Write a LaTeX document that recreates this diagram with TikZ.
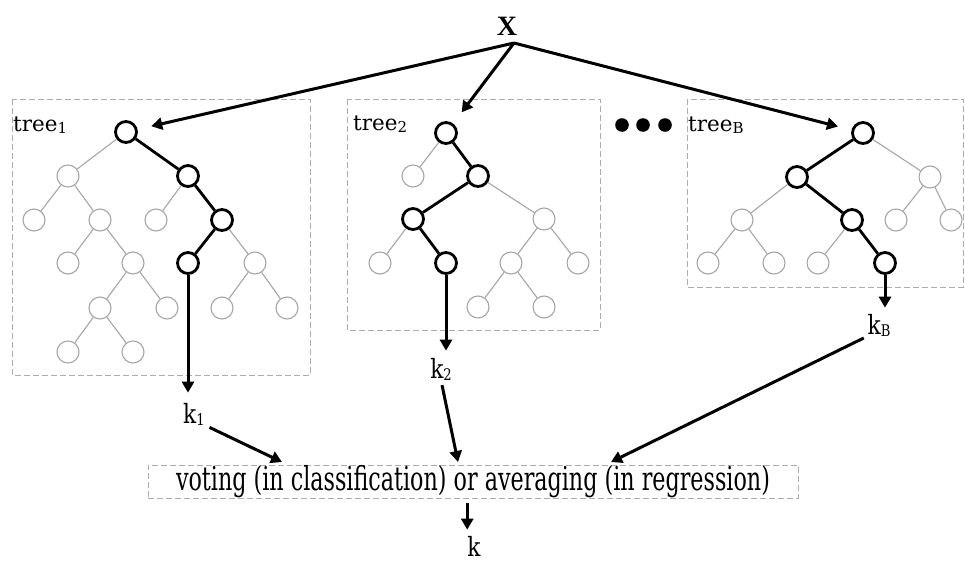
\documentclass[tikz,border=0pt]{standalone}
\usepackage{fontspec}
\setmainfont{DejaVu Serif}
\newfontfamily\timesfont{Liberation Serif}
\usetikzlibrary{arrows.meta}

% subscripted labels
\newcommand\treelabel[1]{tree\raisebox{-2pt}{\fontsize{15}{15}\selectfont #1}}
\newcommand\klabel[1]{\scalebox{0.82}[1]{k\raisebox{-2pt}{\fontsize{16}{16}\selectfont #1}}}

\tikzset{
  leaf/.style={circle, draw=gray!70, line width=1.1pt, minimum size=22pt, inner sep=0pt},
  hot/.style={circle, draw=black, line width=2.8pt, minimum size=21pt, inner sep=0pt},
  thinedge/.style={draw=gray!70, line width=1.1pt},
  hotedge/.style={draw=black, line width=2.8pt},
  treeframe/.style={draw=gray!65, line width=0.9pt, dash pattern=on 6pt off 3pt},
  flow/.style={draw=black, line width=3pt, -{Triangle[length=11pt,width=12pt]}},
  lbl/.style={inner sep=0pt, anchor=base, font=\fontsize{26.5}{30}\selectfont},
  treename/.style={inner sep=0pt, anchor=base west, font=\fontsize{21.5}{26}\selectfont},
}

\begin{document}
\begin{tikzpicture}[x=1pt, y=-1pt]
\useasboundingbox (0,0) rectangle (965,562);
\fill[white] (0,0) rectangle (965,562);

% input
\node[inner sep=0pt, anchor=base, font=\timesfont\bfseries\fontsize{28}{30}\selectfont] (x) at (507,35) {X};
\coordinate (xs) at (514,43);

% frames around the trees
\draw[treeframe] (12,99) rectangle (310,375);
\draw[treeframe] (347,99) rectangle (600,330);
\draw[treeframe] (687,99) rectangle (963,287);

\node[treename] (n1) at (13,131) {\treelabel{1}};
\node[treename] (n2) at (353,130) {\treelabel{2}};
\node[treename] (nB) at (688,131) {\treelabel{B}};

% ellipsis between trees
\fill (622,125) circle (6.8pt) (643,125) circle (6.8pt) (665,125) circle (6.8pt);

% ---- tree 1 ----
\node[hot]  (a0)  at (126,132) {};
\node[leaf] (a1)  at (68,176) {};
\node[hot]  (a2)  at (188,176) {};
\node[leaf] (a3)  at (34,220) {};
\node[leaf] (a4)  at (100,220) {};
\node[leaf] (a5)  at (156,220) {};
\node[hot]  (a6)  at (222,220) {};
\node[leaf] (a7)  at (68,263) {};
\node[leaf] (a8)  at (133,263) {};
\node[hot]  (a9)  at (188,263) {};
\node[leaf] (a10) at (255,263) {};
\node[leaf] (a11) at (100,308) {};
\node[leaf] (a12) at (167,308) {};
\node[leaf] (a13) at (222,308) {};
\node[leaf] (a14) at (287,308) {};
\node[leaf] (a15) at (68,352) {};
\node[leaf] (a16) at (133,352) {};
\draw[thinedge] (a0)--(a1) (a1)--(a3) (a1)--(a4) (a2)--(a5) (a6)--(a10)
  (a4)--(a7) (a4)--(a8) (a8)--(a11) (a8)--(a12) (a10)--(a13) (a10)--(a14)
  (a11)--(a15) (a11)--(a16);
\draw[hotedge] (a0)--(a2) (a2)--(a6) (a6)--(a9);

% ---- tree 2 ----
\node[hot]  (b0)  at (446,133) {};
\node[leaf] (b1)  at (413,176) {};
\node[hot]  (b2)  at (478,176) {};
\node[hot]  (b3)  at (413,219) {};
\node[leaf] (b4)  at (544,219) {};
\node[leaf] (b5)  at (380,263) {};
\node[hot]  (b6)  at (446,263) {};
\node[leaf] (b7)  at (511,263) {};
\node[leaf] (b8)  at (578,263) {};
\node[leaf] (b9)  at (478,307) {};
\node[leaf] (b10) at (544,307) {};
\draw[thinedge] (b0)--(b1) (b2)--(b4) (b3)--(b5) (b4)--(b7) (b4)--(b8)
  (b7)--(b9) (b7)--(b10);
\draw[hotedge] (b0)--(b2) (b2)--(b3) (b3)--(b6);

% ---- tree B ----
\node[hot]  (c0)  at (863,133) {};
\node[hot]  (c1)  at (797,177) {};
\node[leaf] (c2)  at (930,177) {};
\node[leaf] (c3)  at (742,220) {};
\node[hot]  (c4)  at (852,220) {};
\node[leaf] (c5)  at (896,220) {};
\node[leaf] (c6)  at (951,220) {};
\node[leaf] (c7)  at (708,263) {};
\node[leaf] (c8)  at (774,263) {};
\node[leaf] (c9)  at (818,263) {};
\node[hot]  (c10) at (885,263) {};
\draw[thinedge] (c0)--(c2) (c1)--(c3) (c2)--(c5) (c2)--(c6) (c3)--(c7)
  (c3)--(c8) (c4)--(c9);
\draw[hotedge] (c0)--(c1) (c1)--(c4) (c4)--(c10);

% input fed to every tree
\draw[flow, shorten >=14pt] (xs) -- (a0);
\draw[flow, shorten >=14pt] (xs) -- (b0);
\draw[flow, shorten >=14pt] (xs) -- (c0);

% tree outputs
\node[lbl] (k1) at (194,423) {\klabel{1}};
\node[lbl] (k2) at (441,378) {\klabel{2}};
\node[lbl] (kB) at (879,334) {\klabel{B}};

\draw[flow, shorten >=10pt] (a9) -- (a9 |- k1.north);
\draw[flow, shorten >=7pt] (b6) -- (b6 |- k2.north);
\draw[flow, shorten >=6pt] (c10) -- (c10 |- kB.north);

% aggregation
\node[treeframe, minimum width=650pt, minimum height=33pt, inner sep=0pt,
      font=\fontsize{33}{38}\selectfont] (vote) at (473,481.5)
  {\scalebox{0.674}[1]{voting (in classification) or averaging (in regression)}};

\coordinate (t1) at (282,462);
\coordinate (t2) at (458,462);
\coordinate (t3) at (611,462);
\draw[flow, shorten <=5pt] (k1.south east) -- (t1);
\draw[flow, shorten <=5pt] (k2.south) -- (t2);
\draw[flow, shorten <=4pt] (kB.south west) -- (t3);

% final output
\node[lbl] (kout) at (474,556) {\scalebox{0.82}[1]{k}};
\draw[flow, shorten <=5pt, shorten >=6pt] (vote.south -| kout.north west) -- (kout.north west);
\end{tikzpicture}
\end{document}
